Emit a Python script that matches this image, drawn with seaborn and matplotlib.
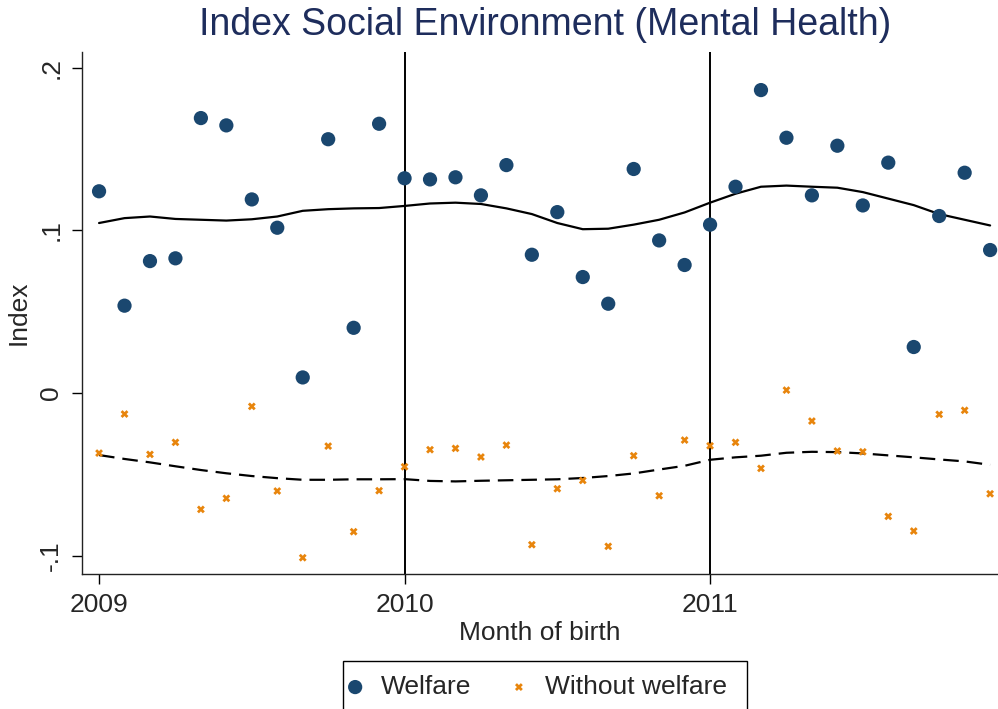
import numpy as np
import pandas as pd
import matplotlib
matplotlib.use("Agg")
import matplotlib.pyplot as plt
from matplotlib.patches import Rectangle
import seaborn as sns

# ---- data ----
# month index: 0 = 2009m1 ... 35 = 2011m12
month = list(range(36))
welfare = [0.124, 0.0537, 0.0811, 0.0828, 0.169, 0.1645, 0.119, 0.1016, 0.0096, 0.156, 0.0401, 0.1655,
           0.132, 0.1313, 0.1326, 0.1215, 0.1401, 0.085, 0.1112, 0.0713, 0.0549, 0.1377, 0.0938, 0.0787,
           0.1035, 0.1268, 0.1862, 0.1569, 0.1215, 0.152, 0.1153, 0.1416, 0.0283, 0.1088, 0.1354, 0.0879]
without_welfare = [-0.0369, -0.0129, -0.0377, -0.0303, -0.0715, -0.0647, -0.0082, -0.0602, -0.1012, -0.0326, -0.0852, -0.060,
                   -0.0453, -0.0348, -0.034, -0.0393, -0.032, -0.0932, -0.0588, -0.0537, -0.0942, -0.0385, -0.0631, -0.0289,
                   -0.0324, -0.0303, -0.0463, 0.0018, -0.0172, -0.0356, -0.0361, -0.0758, -0.0848, -0.0131, -0.0106, -0.0619]
welfare_smooth = [0.1045, 0.1075, 0.1085, 0.107, 0.1065, 0.1060, 0.1068, 0.1085, 0.112, 0.113, 0.1135, 0.1137,
                  0.115, 0.1165, 0.117, 0.1162, 0.1135, 0.110, 0.1045, 0.1007, 0.1010, 0.1035, 0.1065, 0.111,
                  0.117, 0.1225, 0.1268, 0.1275, 0.1268, 0.1262, 0.1235, 0.1195, 0.1155, 0.1100, 0.1065, 0.103]
without_smooth = [-0.0381, -0.0405, -0.0426, -0.045, -0.0473, -0.0493, -0.051, -0.0523, -0.0533, -0.0533, -0.053, -0.053,
                  -0.0529, -0.054, -0.0543, -0.0539, -0.0536, -0.0533, -0.053, -0.0522, -0.051, -0.0494, -0.047, -0.0447,
                  -0.041, -0.0395, -0.0385, -0.0367, -0.0361, -0.0363, -0.0371, -0.0383, -0.0395, -0.0408, -0.042, -0.0441]
year_ticks = [0, 12, 24]
year_labels = ["2009", "2010", "2011"]
cutoffs = [12, 24]
y_ticks = [0.2, 0.1, 0.0, -0.1]
y_labels = [".2", ".1", "0", "-.1"]

df = pd.DataFrame({"month": month, "welfare": welfare, "without": without_welfare,
                   "welfare_smooth": welfare_smooth, "without_smooth": without_smooth})

# ---- style ----
sns.set_style("white")
plt.rcParams["font.family"] = ["Liberation Sans", "DejaVu Sans"]

NAVY = "#1a476f"
ORANGE = "#e8850c"
TITLE = "#1e2d5c"
FS = 19

W, H = 998, 709
fig = plt.figure(figsize=(W / 100, H / 100), dpi=100)
ax = fig.add_axes([82 / W, (H - 574) / H, (W - 82) / W, (574 - 52) / H])

sns.scatterplot(data=df, x="month", y="welfare", ax=ax, color=NAVY, s=105, marker="o",
                edgecolor="none", label="Welfare", zorder=3)
sns.scatterplot(data=df, x="month", y="without", ax=ax, color=ORANGE, s=32, marker="X",
                edgecolor="none", label="Without welfare", zorder=3)
sns.lineplot(data=df, x="month", y="welfare_smooth", ax=ax, color="black", linewidth=1.6,
             legend=False, zorder=2)
sns.lineplot(data=df, x="month", y="without_smooth", ax=ax, color="black", linewidth=1.6,
             linestyle=(0, (7, 3.6)), legend=False, zorder=2)

for c in cutoffs:
    ax.axvline(c, color="black", linewidth=1.4, zorder=1)

ax.set_xlim(-0.67, 35.31)
ax.set_ylim(-0.1112, 0.2096)

ax.set_xticks(year_ticks)
ax.set_xticklabels(year_labels, fontsize=FS)
ax.set_yticks(y_ticks)
ax.set_yticklabels(y_labels, fontsize=FS, rotation=90, va="center")
ax.tick_params(axis="both", direction="out", length=7.5, width=1.0, color="black",
               bottom=True, left=True, pad=6)

for side in ["top", "right"]:
    ax.spines[side].set_visible(False)
for side in ["left", "bottom"]:
    ax.spines[side].set_color("#222222")
    ax.spines[side].set_linewidth(1.0)

ax.set_xlabel("Month of birth", fontsize=FS, labelpad=3)
ax.set_ylabel("Index", fontsize=FS, labelpad=6)
ax.set_title("Index Social Environment (Mental Health)", fontsize=27, color=TITLE, pad=12,
             x=(545 - 82) / (W - 82))

leg = ax.legend(loc="center", bbox_to_anchor=(537 / W, (H - 687) / H),
                bbox_transform=fig.transFigure, ncol=2, fontsize=FS, frameon=False,
                borderpad=0, columnspacing=1.5, handletextpad=0.68, handlelength=0.6,
                borderaxespad=0)
# legend frame (extends below the figure edge, as in the reference)
fig.patches.append(Rectangle((343 / W, -0.05), (747 - 343) / W, (H - 661) / H + 0.05,
                             transform=fig.transFigure, fill=False, edgecolor="black",
                             linewidth=1.0))

fig.savefig("out.png", dpi=100)
